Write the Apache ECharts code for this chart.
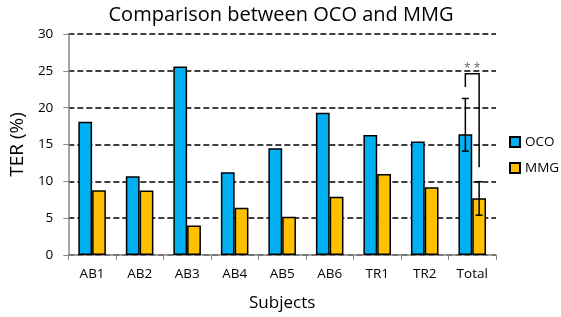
<!DOCTYPE html>
<html><head><meta charset="utf-8">
<script src="https://cdn.jsdelivr.net/npm/echarts@6/dist/echarts.min.js"></script>
<style>html,body{margin:0;padding:0;background:#fff}#c{width:561px;height:317px}</style>
</head><body><div id="c"></div>
<script>
var categories = ['AB1','AB2','AB3','AB4','AB5','AB6','TR1','TR2','Total'];
var ocoValues = [18.1, 10.7, 25.6, 11.25, 14.5, 19.3, 16.3, 15.4, 16.4];
var mmgValues = [8.8, 8.75, 4.0, 6.4, 5.2, 7.9, 11.0, 9.2, 7.7];
// error bars: [category index, low, high, side(-1 OCO, +1 MMG)]
var errorBars = [[8, 14.1, 21.25, -1], [8, 5.4, 9.95, 1]];
// significance bracket: [category index, left leg bottom, top, right leg bottom]
var bracket = [[8, 22.8, 24.6, 11.9]];
var yTicks = [0, 5, 10, 15, 20, 25, 30];

var FONT = 'Open Sans';
var chart = echarts.init(document.getElementById('c'), null, {renderer: 'canvas'});
var BAR_OFF = 0.145;
chart.setOption({
  animation: false,
  title: {text: 'Comparison between OCO and MMG', left: 276, top: 0, textAlign: 'center',
    textStyle: {fontFamily: FONT, fontSize: 20, fontWeight: 'normal', color: '#000'}},
  legend: {data: ['OCO', 'MMG'], orient: 'vertical', left: 509, top: 135, padding: 0, itemWidth: 10, itemHeight: 10,
    itemGap: 12, icon: 'rect', textStyle: {fontFamily: FONT, fontSize: 13.5, color: '#000'}},
  grid: {left: 63, right: 65, top: 34, bottom: 59},
  xAxis: {type: 'category', data: categories, name: 'Subjects', nameLocation: 'middle', nameGap: 40,
    nameTextStyle: {fontFamily: FONT, fontSize: 17, color: '#000'},
    axisLine: {lineStyle: {color: '#888', width: 1.5}},
    axisTick: {show: true, length: 5, lineStyle: {color: '#888'}},
    axisLabel: {fontFamily: FONT, fontSize: 13.5, color: '#000', margin: 12}},
  yAxis: {type: 'value', min: 0, max: 30, interval: 5, name: 'TER (%)', nameLocation: 'middle', nameGap: 40,
    nameTextStyle: {fontFamily: FONT, fontSize: 19, color: '#000'},
    axisLine: {show: true, lineStyle: {color: '#888', width: 1.5}},
    axisTick: {show: true, length: 5, lineStyle: {color: '#888'}},
    axisLabel: {fontFamily: FONT, fontSize: 13.5, color: '#000', margin: 15,
      formatter: function (v) { return yTicks.indexOf(v) >= 0 ? String(v) : ''; }},
    splitLine: {show: true, lineStyle: {color: '#000', width: 1.5, type: [6, 3]}}},
  series: [
    {name: 'OCO', type: 'bar', data: ocoValues, barGap: '0%', barCategoryGap: '42%',
      itemStyle: {color: '#00B0F0', borderColor: '#000', borderWidth: 1.5}},
    {name: 'MMG', type: 'bar', data: mmgValues, barGap: '0%', barCategoryGap: '42%',
      itemStyle: {color: '#FFC000', borderColor: '#000', borderWidth: 1.5}},
    {type: 'custom', data: errorBars, z: 5, silent: true,
      renderItem: function (params, api) {
        var cw = api.size([1, 0])[0];
        var cx = api.coord([api.value(0), 0])[0] + api.value(3) * BAR_OFF * cw;
        var lo = api.coord([api.value(0), api.value(1)])[1];
        var hi = api.coord([api.value(0), api.value(2)])[1];
        var cap = 3.5;
        var st = {stroke: '#000', lineWidth: 1.5};
        return {type: 'group', children: [
          {type: 'line', shape: {x1: cx, y1: lo, x2: cx, y2: hi}, style: st},
          {type: 'line', shape: {x1: cx - cap, y1: lo, x2: cx + cap, y2: lo}, style: st},
          {type: 'line', shape: {x1: cx - cap, y1: hi, x2: cx + cap, y2: hi}, style: st}
        ]};
      }},
    {type: 'custom', data: bracket, z: 5, silent: true,
      renderItem: function (params, api) {
        var cw = api.size([1, 0])[0];
        var c = api.coord([api.value(0), 0])[0];
        var xl = c - BAR_OFF * cw, xr = c + BAR_OFF * cw;
        var yl = api.coord([api.value(0), api.value(1)])[1];
        var yt = api.coord([api.value(0), api.value(2)])[1];
        var yr = api.coord([api.value(0), api.value(3)])[1];
        return {type: 'group', children: [
          {type: 'polyline', shape: {points: [[xl, yl], [xl, yt], [xr, yt], [xr, yr]]},
            style: {stroke: '#000', lineWidth: 1.5, fill: null}},
          {type: 'text', style: {text: '* *', x: c, y: yt + 1, textAlign: 'center', textVerticalAlign: 'bottom',
            fontFamily: FONT, fontSize: 12, fill: '#666'}}
        ]};
      }}
  ]
});
</script></body></html>
